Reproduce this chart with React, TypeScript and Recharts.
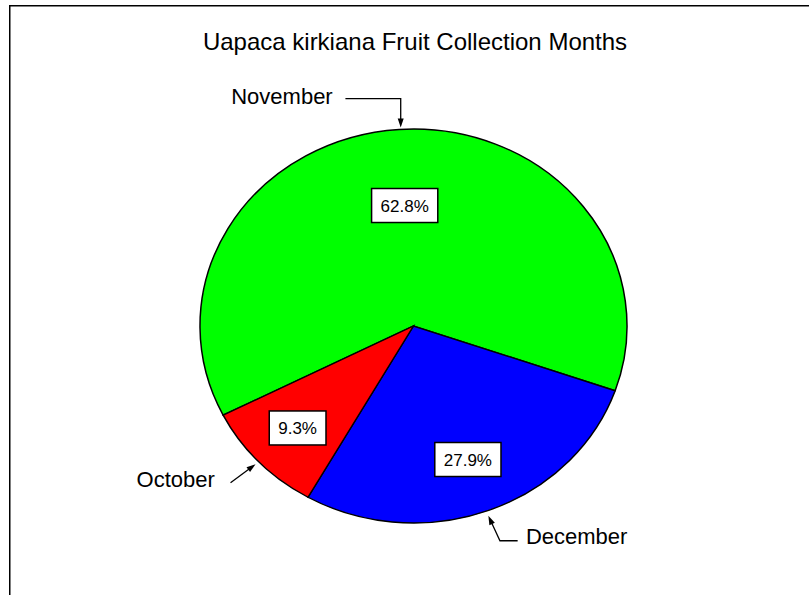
import React from 'react';
import { PieChart, Pie, Cell } from 'recharts';

// ---- data ----
const months = ['November', 'December', 'October'];
const shares = [62.8, 27.9, 9.3];
const colors = ['#00FF00', '#0000FF', '#FF0000'];
const chartTitle = 'Uapaca kirkiana Fruit Collection Months';

const data = months.map((m, i) => ({ name: m, value: shares[i] }));

// ---- layout ----
const W = 809;
const H = 595;
const CX = 413.5;
const CY = 326;
const RX = 213.5;
const RY = 197;
const SY = RY / RX;
const FONT = '"Liberation Sans", Arial, Helvetica, sans-serif';

type Layout = {
  frac: number;
  tipAngle: number;
  tipScale: number;
  path: number[][];
  text: number[];
  anchor: 'start' | 'end';
};

const labelLayout: Record<string, Layout> = {
  November: { frac: 0.613, tipAngle: 93.4, tipScale: 1.01, path: [[0, -28.7], [-55.3, -28.7]], text: [-68, -23], anchor: 'end' },
  December: { frac: 0.724, tipAngle: -70, tipScale: 1.025, path: [[11.6, 25], [29.3, 25]], text: [37.6, 28.3], anchor: 'start' },
  October: { frac: 0.75, tipAngle: -136.5, tipScale: 1.02, path: [[-25, 18.4]], text: [-40.7, 22.7], anchor: 'end' },
};

const charW: Record<string, number> = { '.': 0.278, '%': 0.889 };
const textWidth = (s: string, size: number) =>
  s.split('').reduce((acc, ch) => acc + (charW[ch] ?? 0.556), 0) * size;

const RAD = Math.PI / 180;

const renderLabel = (props: any) => {
  const { cx, cy, midAngle, outerRadius, name, value } = props;
  const L = labelLayout[name];
  if (!L) return null;
  const rx = outerRadius;
  const ry = outerRadius * SY;
  const px = cx + rx * L.frac * Math.cos(midAngle * RAD);
  const py = cy - ry * L.frac * Math.sin(midAngle * RAD);
  const txt = `${Number(value).toFixed(1)}%`;
  const fs = 17;
  const bw = textWidth(txt, fs) + 18;
  const bh = 34;

  // leader
  const tx = cx + rx * L.tipScale * Math.cos(L.tipAngle * RAD);
  const ty = cy - ry * L.tipScale * Math.sin(L.tipAngle * RAD);
  const pts = [...L.path].reverse().map(([dx, dy]) => [tx + dx, ty + dy]);
  pts.push([tx, ty]);
  const [ax, ay] = pts[pts.length - 2];
  const dxv = tx - ax;
  const dyv = ty - ay;
  const len = Math.hypot(dxv, dyv) || 1;
  const ux = dxv / len;
  const uy = dyv / len;
  const al = 9;
  const aw = 3;
  const bx = tx - ux * al;
  const by = ty - uy * al;
  const head = `${tx},${ty} ${bx - uy * aw},${by + ux * aw} ${bx + uy * aw},${by - ux * aw}`;
  const lineEnd = [tx - ux * (al - 1), ty - uy * (al - 1)];
  const linePts = [...pts.slice(0, -1), lineEnd].map((p) => p.join(',')).join(' ');

  return (
    <g>
      <rect x={px - bw / 2} y={py - bh / 2} width={bw} height={bh} fill="#FFFFFF" stroke="#000000" strokeWidth={1.5} />
      <text x={px} y={py + 6} textAnchor="middle" fontFamily={FONT} fontSize={fs} fill="#000000">
        {txt}
      </text>
      <polyline points={linePts} fill="none" stroke="#000000" strokeWidth={1.3} />
      <polygon points={head} fill="#000000" />
      <text x={tx + L.text[0]} y={ty + L.text[1]} textAnchor={L.anchor} fontFamily={FONT} fontSize={22} fill="#000000">
        {name}
      </text>
    </g>
  );
};

export default function App() {
  return (
    <div style={{ position: 'absolute', left: 0, top: 0, width: W, height: H, background: '#FFFFFF', overflow: 'hidden' }}>
      <style>{`
        .ellpie path.recharts-sector {
          transform-box: view-box;
          transform-origin: ${CX}px ${CY}px;
          transform: scaleY(${SY});
        }
      `}</style>
      <svg width={W} height={H} style={{ position: 'absolute', left: 0, top: 0 }}>
        <rect x={9.75} y={5.75} width={900} height={700} fill="none" stroke="#000000" strokeWidth={1.5} />
        <text x={415} y={50} textAnchor="middle" fontFamily={FONT} fontSize={24} fill="#000000">
          {chartTitle}
        </text>
      </svg>
      <div style={{ position: 'absolute', left: 0, top: 0 }}>
        <PieChart width={W} height={H} margin={{ top: 0, right: 0, bottom: 0, left: 0 }}>
          <Pie
            className="ellpie"
            data={data}
            dataKey="value"
            nameKey="name"
            cx={CX}
            cy={CY}
            innerRadius={0}
            outerRadius={RX}
            startAngle={206.9}
            endAngle={-153.1}
            stroke="#000000"
            strokeWidth={1.5}
            label={renderLabel}
            labelLine={false}
            isAnimationActive={false}
          >
            {data.map((d, i) => (
              <Cell key={d.name} fill={colors[i]} />
            ))}
          </Pie>
        </PieChart>
      </div>
    </div>
  );
}
